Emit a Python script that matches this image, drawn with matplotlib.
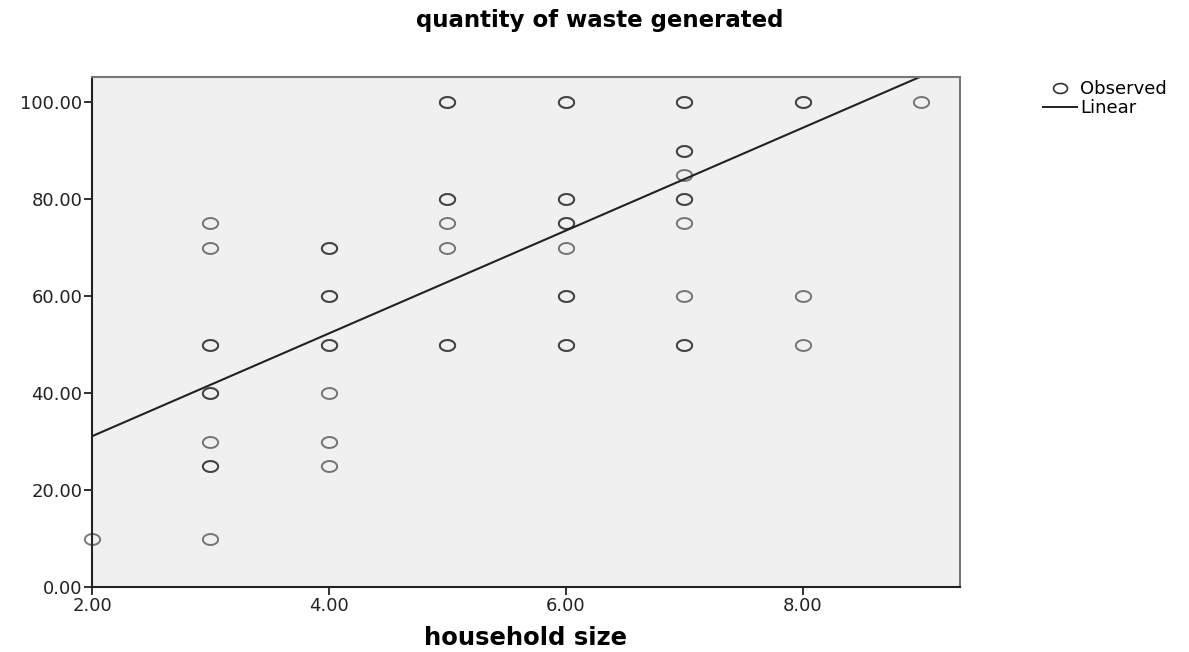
import numpy as np
import matplotlib
matplotlib.use("Agg")
import matplotlib.pyplot as plt
from matplotlib.path import Path
from matplotlib.lines import Line2D

# Observed data (household size, quantity of waste), duplicates repeated
household_size = [2,
                  3, 3, 3, 3, 3, 3, 3, 3, 3, 3,
                  4, 4, 4, 4, 4, 4, 4, 4, 4,
                  5, 5, 5, 5, 5, 5, 5, 5,
                  6, 6, 6, 6, 6, 6, 6, 6, 6, 6, 6,
                  7, 7, 7, 7, 7, 7, 7, 7, 7, 7, 7,
                  8, 8, 8, 8,
                  9]
waste_quantity = [10,
                  75, 70, 50, 50, 40, 40, 30, 25, 25, 10,
                  70, 70, 60, 60, 50, 50, 40, 30, 25,
                  100, 100, 80, 80, 75, 70, 50, 50,
                  100, 100, 80, 80, 75, 75, 70, 60, 60, 50, 50,
                  100, 100, 90, 90, 85, 80, 80, 75, 60, 50, 50,
                  100, 100, 60, 50,
                  100]

# Linear fit line
fit_intercept = 9.9
fit_slope = 10.6

x_ticks = [2, 4, 6, 8]
y_ticks = [0, 20, 40, 60, 80, 100]

fig = plt.figure(figsize=(11.89, 6.52), dpi=100)
ax = fig.add_axes([92/1189, 1-587/652, (960-92)/1189, (587-77)/652])
ax.set_facecolor("#f0f0f0")

# Ellipse marker (horizontally stretched circle)
t = np.linspace(0, 2*np.pi, 60)
ell = Path(np.column_stack([1.4*np.cos(t), np.sin(t)]), closed=True)

ax.plot(household_size, waste_quantity, linestyle="none", marker=ell,
        markersize=11, markerfacecolor="none", markeredgecolor="#222222",
        markeredgewidth=1.4, alpha=0.6, clip_on=False, zorder=3)

xl = np.array([2, 9.33])
ax.plot(xl, fit_intercept + fit_slope*xl, color="#222222", lw=1.5, zorder=2)

ax.set_xlim(2, 9.33)
ax.set_ylim(0, 105.2)
ax.set_xticks(x_ticks)
ax.set_xticklabels([f"{v:.2f}" for v in x_ticks])
ax.set_yticks(y_ticks)
ax.set_yticklabels([f"{v:.2f}" for v in y_ticks])
ax.tick_params(axis="both", direction="out", length=6, width=1.3,
               labelsize=13, colors="#222222", pad=1)

for s in ["left", "bottom"]:
    ax.spines[s].set_color("#222222")
    ax.spines[s].set_linewidth(1.5)
for s in ["top", "right"]:
    ax.spines[s].set_color("#777777")
    ax.spines[s].set_linewidth(1.5)

fig.text(600/1189, 1-20/652, "quantity of waste generated", ha="center", va="center",
         fontsize=16.5, fontweight="bold", family="DejaVu Sans")
fig.text(526/1189, 1-638/652, "household size", ha="center", va="center",
         fontsize=17.5, fontweight="bold", family="DejaVu Sans")

handles = [Line2D([], [], linestyle="none", marker=ell, markersize=10,
                  markerfacecolor="none", markeredgecolor="#333333", markeredgewidth=1.2),
           Line2D([], [], color="#222222", lw=1.4)]
fig.legend(handles, ["Observed", "Linear"], loc="upper left",
           bbox_to_anchor=(1034/1189, 1-71/652), frameon=False, fontsize=13,
           handlelength=1.9, handletextpad=0.15, labelspacing=0.05, borderpad=0)

fig.savefig("out.png", dpi=100)
